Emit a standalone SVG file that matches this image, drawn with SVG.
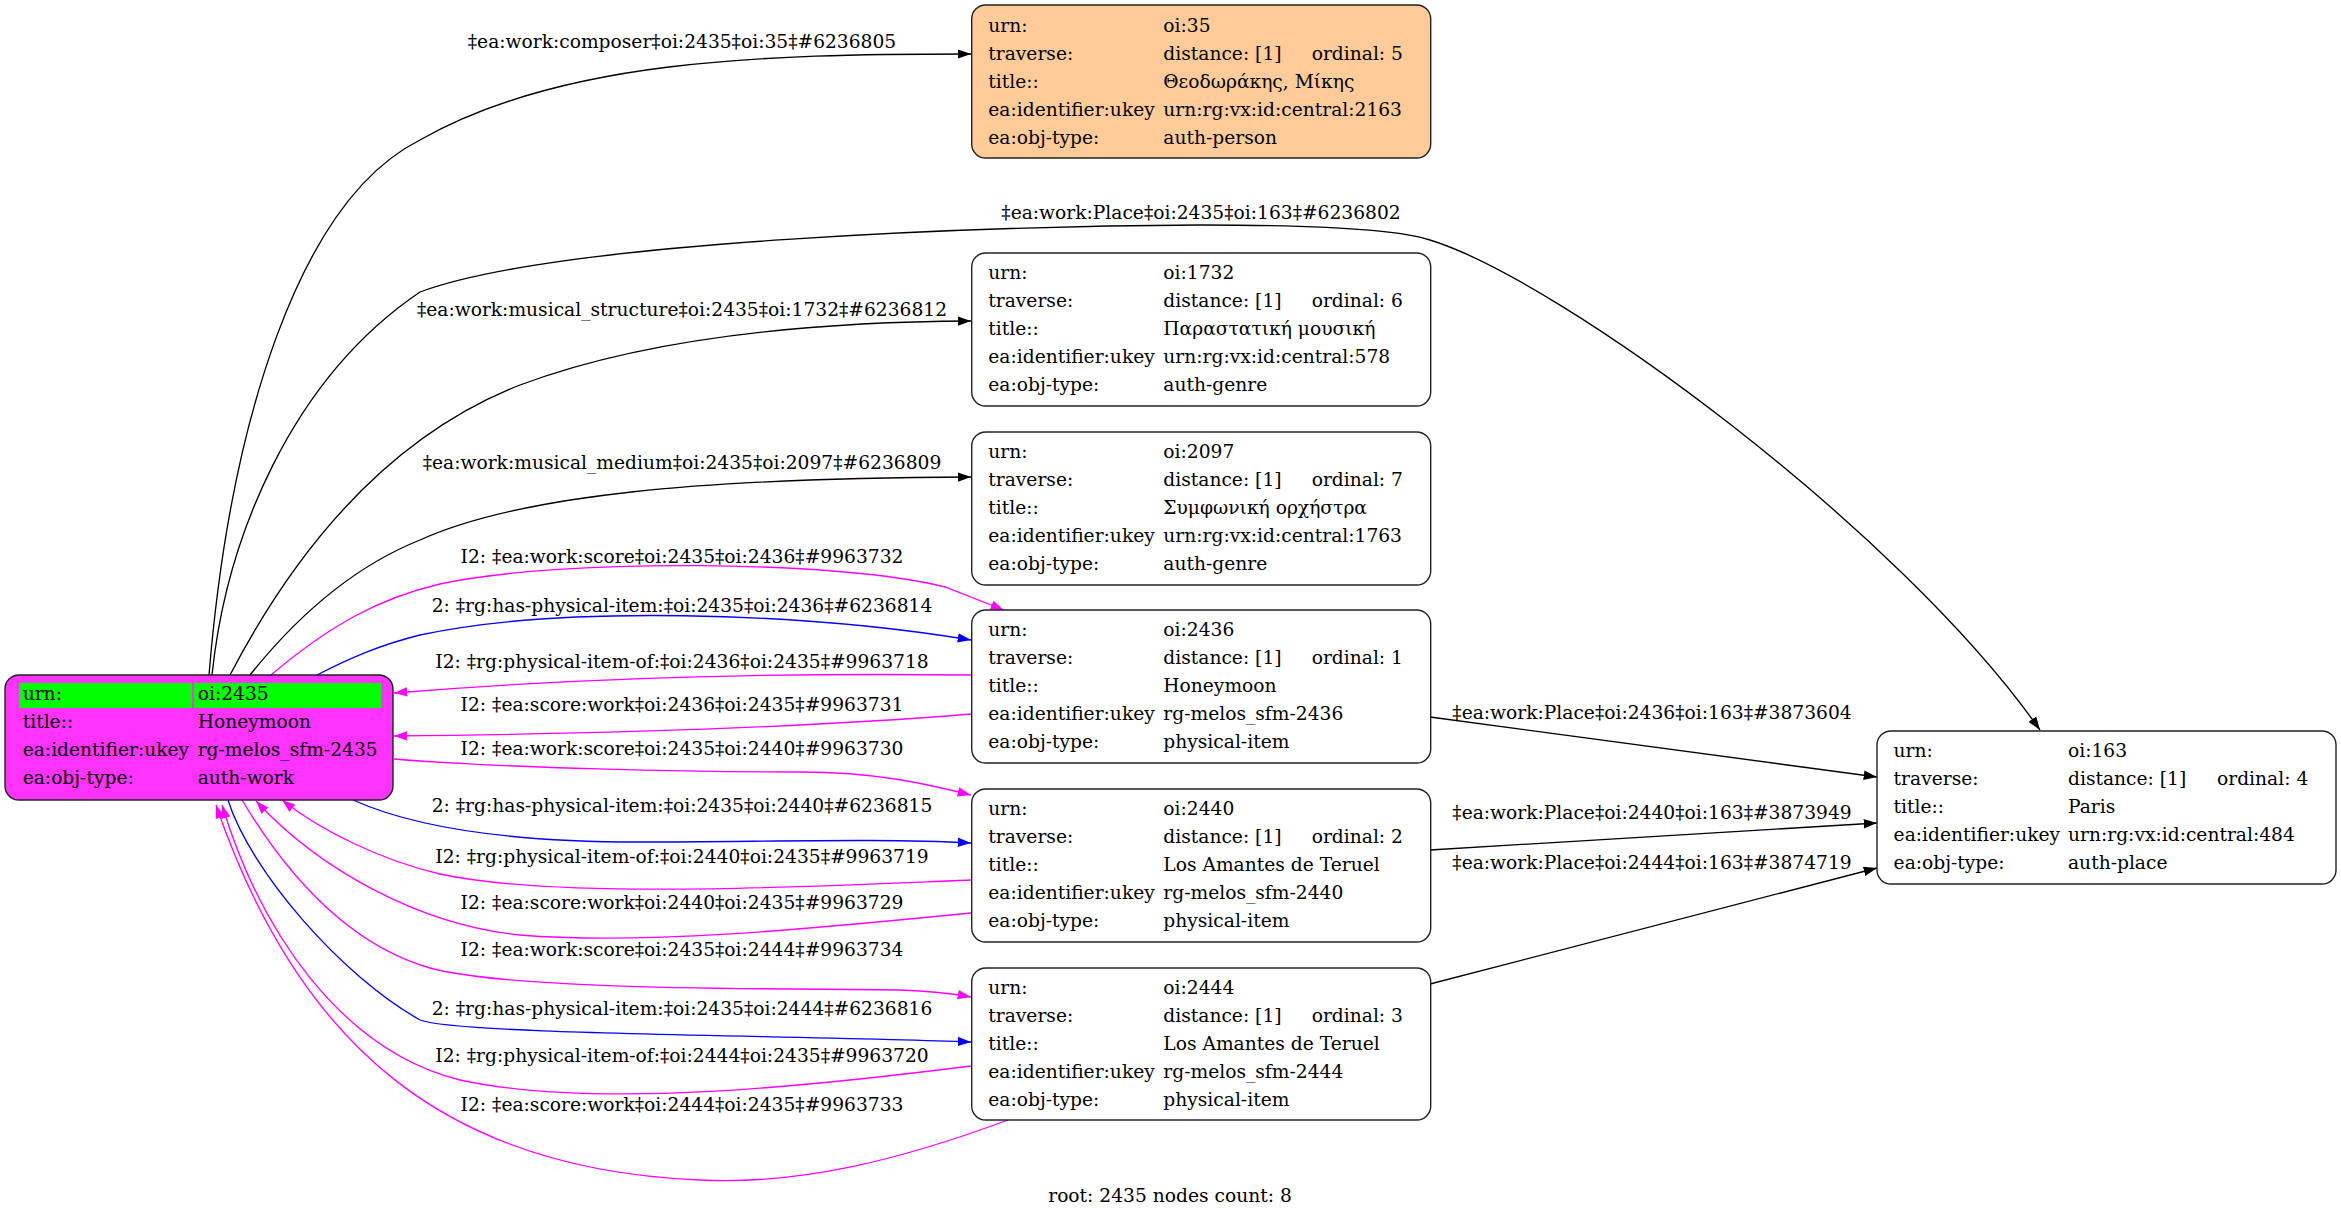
<svg xmlns="http://www.w3.org/2000/svg" width="2341" height="1216" viewBox="0 0 2341 1216">
<style>
text{font-family:"DejaVu Serif","Liberation Serif",serif;font-size:18.67px;fill:#000}
.lbl{text-anchor:middle}
.box{stroke:#222;stroke-width:1.4}
.e{fill:none;stroke-width:1.33}
.k{stroke:#000}
.b{stroke:#0000ff}
.m{stroke:#ff00ff}
</style>
<defs>
<marker id="ak" markerUnits="userSpaceOnUse" markerWidth="14" markerHeight="10" viewBox="0 0 14 10" refX="13.3" refY="5" orient="auto"><path d="M0,0.3 L13.3,5 L0,9.7 z" fill="#000"/></marker>
<marker id="ab" markerUnits="userSpaceOnUse" markerWidth="14" markerHeight="10" viewBox="0 0 14 10" refX="13.3" refY="5" orient="auto"><path d="M0,0.3 L13.3,5 L0,9.7 z" fill="#0000ff"/></marker>
<marker id="am" markerUnits="userSpaceOnUse" markerWidth="14" markerHeight="10" viewBox="0 0 14 10" refX="13.3" refY="5" orient="auto"><path d="M0,0.3 L13.3,5 L0,9.7 z" fill="#ff00ff"/></marker>
</defs>
<rect width="2341" height="1216" fill="#fff"/>

<g id="edges">
<path class="e k" marker-end="url(#ak)" d="M209,675 C230,420 300,200 420,140 C560,60 760,54 971,54"/>
<path class="e k" marker-end="url(#ak)" d="M212,675 C226,540 290,380 420,292 C560,240 1000,226 1200,225 C1330,225 1400,230 1430,240 C1560,280 1900,530 2040,730"/>
<path class="e k" marker-end="url(#ak)" d="M230,675 C290,560 380,440 520,385 C640,340 800,322 971,321"/>
<path class="e k" marker-end="url(#ak)" d="M250,675 C310,600 370,560 420,540 C520,495 700,478 971,477"/>
<path class="e m" marker-end="url(#am)" d="M271,675 C330,625 380,598 440,584 C560,558 840,560 945,587 L1004,610"/>
<path class="e b" marker-end="url(#ab)" d="M317,675 C350,658 380,645 420,635 C560,605 800,612 971,640"/>
<path class="e m" marker-end="url(#am)" d="M971,675 C800,673 600,676 394,693"/>
<path class="e m" marker-end="url(#am)" d="M971,714 C800,728 600,734 394,736"/>
<path class="e m" marker-end="url(#am)" d="M394,759 C500,768 700,772 800,772 C880,772 930,785 971,795"/>
<path class="e b" marker-end="url(#ab)" d="M353,800 C420,830 520,842 640,842 C760,842 880,838 971,843"/>
<path class="e m" marker-end="url(#am)" d="M971,880 C820,886 560,900 440,874 C380,860 320,830 282,800"/>
<path class="e m" marker-end="url(#am)" d="M971,913 C800,930 640,945 520,935 C420,925 320,870 256,801"/>
<path class="e m" marker-end="url(#am)" d="M242,800 C290,880 350,945 430,968 C520,992 800,988 900,990 C930,991 955,994 971,997"/>
<path class="e b" marker-end="url(#ab)" d="M228,800 C250,870 340,975 420,1020 C460,1035 800,1035 971,1042"/>
<path class="e m" marker-end="url(#am)" d="M971,1066 C820,1085 600,1110 460,1080 C340,1050 260,930 222,805"/>
<path class="e m" marker-end="url(#am)" d="M1008,1120 C900,1160 800,1185 700,1180 C450,1170 300,1050 216,805"/>
<path class="e k" marker-end="url(#ak)" d="M1430,717 L1877,777"/>
<path class="e k" marker-end="url(#ak)" d="M1430,850 L1877,823"/>
<path class="e k" marker-end="url(#ak)" d="M1430,984 L1877,868"/>

<text class="lbl" x="682" y="48">‡ea:work:composer‡oi:2435‡oi:35‡#6236805</text>
<text class="lbl" x="1201" y="219">‡ea:work:Place‡oi:2435‡oi:163‡#6236802</text>
<text class="lbl" x="682" y="316">‡ea:work:musical_structure‡oi:2435‡oi:1732‡#6236812</text>
<text class="lbl" x="682" y="469">‡ea:work:musical_medium‡oi:2435‡oi:2097‡#6236809</text>
<text class="lbl" x="682" y="563">I2: ‡ea:work:score‡oi:2435‡oi:2436‡#9963732</text>
<text class="lbl" x="682" y="612">2: ‡rg:has-physical-item:‡oi:2435‡oi:2436‡#6236814</text>
<text class="lbl" x="682" y="668">I2: ‡rg:physical-item-of:‡oi:2436‡oi:2435‡#9963718</text>
<text class="lbl" x="682" y="711">I2: ‡ea:score:work‡oi:2436‡oi:2435‡#9963731</text>
<text class="lbl" x="682" y="755">I2: ‡ea:work:score‡oi:2435‡oi:2440‡#9963730</text>
<text class="lbl" x="682" y="812">2: ‡rg:has-physical-item:‡oi:2435‡oi:2440‡#6236815</text>
<text class="lbl" x="682" y="863">I2: ‡rg:physical-item-of:‡oi:2440‡oi:2435‡#9963719</text>
<text class="lbl" x="682" y="909">I2: ‡ea:score:work‡oi:2440‡oi:2435‡#9963729</text>
<text class="lbl" x="682" y="956">I2: ‡ea:work:score‡oi:2435‡oi:2444‡#9963734</text>
<text class="lbl" x="682" y="1015">2: ‡rg:has-physical-item:‡oi:2435‡oi:2444‡#6236816</text>
<text class="lbl" x="682" y="1062">I2: ‡rg:physical-item-of:‡oi:2444‡oi:2435‡#9963720</text>
<text class="lbl" x="682" y="1111">I2: ‡ea:score:work‡oi:2444‡oi:2435‡#9963733</text>
<text class="lbl" x="1652" y="719">‡ea:work:Place‡oi:2436‡oi:163‡#3873604</text>
<text class="lbl" x="1652" y="819">‡ea:work:Place‡oi:2440‡oi:163‡#3873949</text>
<text class="lbl" x="1652" y="869">‡ea:work:Place‡oi:2444‡oi:163‡#3874719</text>
</g>

<g id="node-2435">
<rect class="box" x="5" y="675" width="388" height="125" rx="14" fill="#ff33ff"/>
<rect x="19" y="683" width="173" height="25" fill="#00ff00"/>
<rect x="194" y="683" width="187" height="25" fill="#00ff00"/>
<text x="22.7" y="700">urn:</text><text x="197.7" y="700">oi:2435</text>
<text x="22.7" y="728">title::</text><text x="197.7" y="728">Honeymoon</text>
<text x="22.7" y="756">ea:identifier:ukey</text><text x="197.7" y="756">rg-melos_sfm-2435</text>
<text x="22.7" y="784">ea:obj-type:</text><text x="197.7" y="784">auth-work</text>
</g>

<g id="node-35">
<rect class="box" x="971.7" y="5" width="459" height="153" rx="14" fill="#ffcc99"/>
<text x="988.3" y="32">urn:</text><text x="1163.3" y="32">oi:35</text>
<text x="988.3" y="60">traverse:</text><text x="1163.3" y="60">distance: [1]</text><text x="1311.7" y="60">ordinal: 5</text>
<text x="988.3" y="88">title::</text><text x="1163.3" y="88">Θεοδωράκης, Μίκης</text>
<text x="988.3" y="116">ea:identifier:ukey</text><text x="1163.3" y="116">urn:rg:vx:id:central:2163</text>
<text x="988.3" y="144">ea:obj-type:</text><text x="1163.3" y="144">auth-person</text>
</g>

<g id="node-1732">
<rect class="box" x="971.7" y="253" width="459" height="153" rx="14" fill="#fff"/>
<text x="988.3" y="279">urn:</text><text x="1163.3" y="279">oi:1732</text>
<text x="988.3" y="307">traverse:</text><text x="1163.3" y="307">distance: [1]</text><text x="1311.7" y="307">ordinal: 6</text>
<text x="988.3" y="335">title::</text><text x="1163.3" y="335">Παραστατική μουσική</text>
<text x="988.3" y="363">ea:identifier:ukey</text><text x="1163.3" y="363">urn:rg:vx:id:central:578</text>
<text x="988.3" y="391">ea:obj-type:</text><text x="1163.3" y="391">auth-genre</text>
</g>

<g id="node-2097">
<rect class="box" x="971.7" y="432" width="459" height="153" rx="14" fill="#fff"/>
<text x="988.3" y="458">urn:</text><text x="1163.3" y="458">oi:2097</text>
<text x="988.3" y="486">traverse:</text><text x="1163.3" y="486">distance: [1]</text><text x="1311.7" y="486">ordinal: 7</text>
<text x="988.3" y="514">title::</text><text x="1163.3" y="514">Συμφωνική ορχήστρα</text>
<text x="988.3" y="542">ea:identifier:ukey</text><text x="1163.3" y="542">urn:rg:vx:id:central:1763</text>
<text x="988.3" y="570">ea:obj-type:</text><text x="1163.3" y="570">auth-genre</text>
</g>

<g id="node-2436">
<rect class="box" x="971.7" y="610" width="459" height="153" rx="14" fill="#fff"/>
<text x="988.3" y="636">urn:</text><text x="1163.3" y="636">oi:2436</text>
<text x="988.3" y="664">traverse:</text><text x="1163.3" y="664">distance: [1]</text><text x="1311.7" y="664">ordinal: 1</text>
<text x="988.3" y="692">title::</text><text x="1163.3" y="692">Honeymoon</text>
<text x="988.3" y="720">ea:identifier:ukey</text><text x="1163.3" y="720">rg-melos_sfm-2436</text>
<text x="988.3" y="748">ea:obj-type:</text><text x="1163.3" y="748">physical-item</text>
</g>

<g id="node-2440">
<rect class="box" x="971.7" y="789" width="459" height="153" rx="14" fill="#fff"/>
<text x="988.3" y="815">urn:</text><text x="1163.3" y="815">oi:2440</text>
<text x="988.3" y="843">traverse:</text><text x="1163.3" y="843">distance: [1]</text><text x="1311.7" y="843">ordinal: 2</text>
<text x="988.3" y="871">title::</text><text x="1163.3" y="871">Los Amantes de Teruel</text>
<text x="988.3" y="899">ea:identifier:ukey</text><text x="1163.3" y="899">rg-melos_sfm-2440</text>
<text x="988.3" y="927">ea:obj-type:</text><text x="1163.3" y="927">physical-item</text>
</g>

<g id="node-2444">
<rect class="box" x="971.7" y="968" width="459" height="152" rx="14" fill="#fff"/>
<text x="988.3" y="994">urn:</text><text x="1163.3" y="994">oi:2444</text>
<text x="988.3" y="1022">traverse:</text><text x="1163.3" y="1022">distance: [1]</text><text x="1311.7" y="1022">ordinal: 3</text>
<text x="988.3" y="1050">title::</text><text x="1163.3" y="1050">Los Amantes de Teruel</text>
<text x="988.3" y="1078">ea:identifier:ukey</text><text x="1163.3" y="1078">rg-melos_sfm-2444</text>
<text x="988.3" y="1106">ea:obj-type:</text><text x="1163.3" y="1106">physical-item</text>
</g>

<g id="node-163">
<rect class="box" x="1877" y="731" width="459" height="153" rx="14" fill="#fff"/>
<text x="1893.6" y="757">urn:</text><text x="2068" y="757">oi:163</text>
<text x="1893.6" y="785">traverse:</text><text x="2068" y="785">distance: [1]</text><text x="2217" y="785">ordinal: 4</text>
<text x="1893.6" y="813">title::</text><text x="2068" y="813">Paris</text>
<text x="1893.6" y="841">ea:identifier:ukey</text><text x="2068" y="841">urn:rg:vx:id:central:484</text>
<text x="1893.6" y="869">ea:obj-type:</text><text x="2068" y="869">auth-place</text>
</g>

<text class="lbl" x="1170" y="1202">root: 2435 nodes count: 8</text>
</svg>
